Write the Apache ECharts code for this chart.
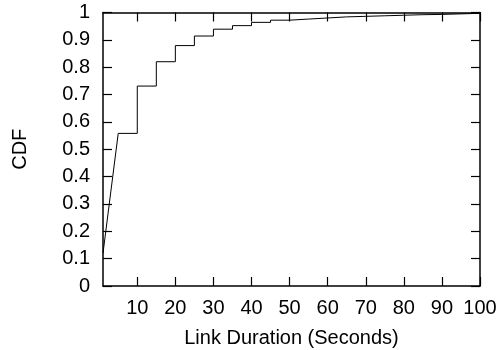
<!DOCTYPE html>
<html>
<head>
<meta charset="utf-8">
<script src="https://cdn.jsdelivr.net/npm/echarts@6/dist/echarts.min.js"></script>
<style>
  html, body {margin: 0; padding: 0; background: #fff;}
  #chart {width: 501px; height: 350px;}
</style>
</head>
<body>
<div id="chart"></div>
<script>
// first stretch of the CDF is a straight ramp, then it steps every 5 s
const rampDuration = [1, 5];
const rampCdf = [0.12, 0.558];
const stepDuration = [5, 10, 15, 20, 25, 30, 35, 40, 45, 50, 55, 60, 65, 70, 75, 80, 85, 90, 95, 100];
const stepCdf = [0.558, 0.731, 0.820, 0.879, 0.914, 0.939, 0.952, 0.964, 0.972, 0.976,
                 0.980, 0.984, 0.986, 0.988, 0.990, 0.992, 0.993, 0.995, 0.997, 0.998];
const xTicks = [10, 20, 30, 40, 50, 60, 70, 80, 90, 100];

const font = 'Liberation Sans, Arial, sans-serif';
const black = '#000';

const chart = echarts.init(document.getElementById('chart'));

const xBase = {
    type: 'value',
    min: 1,
    max: 100,
    axisLine: {show: true, onZero: false, lineStyle: {color: black, width: 1.5}},
    axisTick: {show: true, inside: true, length: 9, customValues: xTicks, lineStyle: {color: black, width: 1.2}},
    splitLine: {show: false}
};
const yBase = {
    type: 'value',
    min: 0,
    max: 1,
    interval: 0.1,
    axisLine: {show: true, onZero: false, lineStyle: {color: black, width: 1.5}},
    axisTick: {show: true, inside: true, length: 9, lineStyle: {color: black, width: 1.2}},
    splitLine: {show: false}
};

chart.setOption({
    animation: false,
    grid: {left: 103, right: 21, top: 12.5, bottom: 64, outerBoundsMode: 'none'},
    xAxis: [
        {
            ...xBase,
            position: 'bottom',
            name: 'Link Duration (Seconds)',
            nameLocation: 'middle',
            nameGap: 42,
            nameTextStyle: {color: black, fontSize: 20, fontFamily: font},
            axisLabel: {customValues: xTicks, color: black, fontSize: 20, fontFamily: font, margin: 12}
        },
        {...xBase, position: 'top', axisLabel: {show: false}}
    ],
    yAxis: [
        {
            ...yBase,
            position: 'left',
            name: 'CDF',
            nameLocation: 'middle',
            nameGap: 73,
            nameTextStyle: {color: black, fontSize: 20, fontFamily: font},
            axisLabel: {
                color: black, fontSize: 20, fontFamily: font, margin: 13,
                formatter: v => String(Math.round(v * 10) / 10)
            }
        },
        {...yBase, position: 'right', axisLabel: {show: false}}
    ],
    series: [
        {
            type: 'line',
            data: rampDuration.map((d, i) => [d, rampCdf[i]]),
            symbol: 'none',
            lineStyle: {color: black, width: 1}
        },
        {
            type: 'line',
            step: 'end',
            data: stepDuration.map((d, i) => [d, stepCdf[i]]),
            symbol: 'none',
            lineStyle: {color: black, width: 1}
        }
    ]
});
</script>
</body>
</html>
